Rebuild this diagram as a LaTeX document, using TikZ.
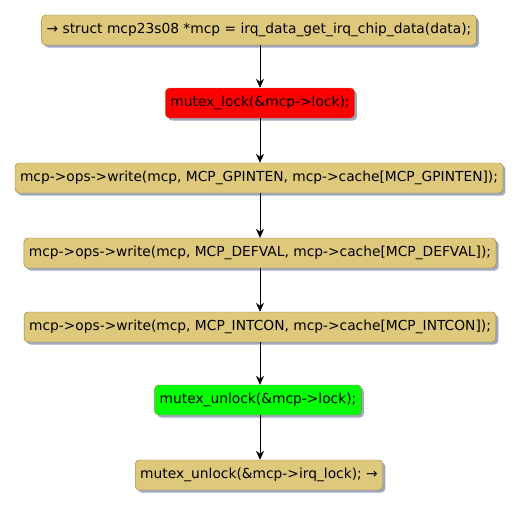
\documentclass[tikz,border=0pt]{standalone}
\usepackage{fontspec}
\setmainfont{DejaVu Sans}
\usepackage{tikz}
\usetikzlibrary{positioning,arrows.meta,shadows}
\definecolor{acttan}{RGB}{221,200,124}
\definecolor{actedge}{RGB}{150,125,60}
\definecolor{actshadow}{RGB}{160,168,190}
\definecolor{actred}{RGB}{255,0,0}
\definecolor{actgreen}{RGB}{0,255,0}

\begin{document}
\begin{tikzpicture}[x=1pt,y=-1pt,
  act/.style={draw=actedge, fill=acttan, rounded corners=4pt, minimum height=30pt,
    inner xsep=5pt, font=\fontsize{13.8}{16}\selectfont,
    drop shadow={shadow xshift=2.5pt, shadow yshift=-2.5pt, fill=actshadow, opacity=1}},
  flow/.style={-{Stealth[length=9pt,width=8pt]}, line width=0.8pt}]
  \useasboundingbox (0,0) rectangle (523,507);

  % activities
  \node[act] (getdata) at (259,30) {\symbol{"2192} struct mcp23s08 *mcp = irq\_data\_get\_irq\_chip\_data(data);};
  \node[act, fill=actred] (lock) at (260,103) {mutex\_lock(\&mcp->lock);};
  \node[act] (gpinten) at (259,178) {mcp->ops->write(mcp, MCP\_GPINTEN, mcp->cache[MCP\_GPINTEN]);};
  \node[act] (defval) at (260,253) {mcp->ops->write(mcp, MCP\_DEFVAL, mcp->cache[MCP\_DEFVAL]);};
  \node[act] (intcon) at (260,327) {mcp->ops->write(mcp, MCP\_INTCON, mcp->cache[MCP\_INTCON]);};
  \node[act, fill=actgreen] (unlock) at (258,400) {mutex\_unlock(\&mcp->lock);};
  \node[act] (irqunlock) at (259,475) {mutex\_unlock(\&mcp->irq\_lock); \symbol{"2192}};

  % arrows
  \draw[flow] (getdata.south -| 260,0) -- (lock.north -| 260,0);
  \draw[flow] (lock.south -| 260,0) -- (gpinten.north -| 260,0);
  \draw[flow] (gpinten.south -| 260,0) -- (defval.north -| 260,0);
  \draw[flow] (defval.south -| 260,0) -- (intcon.north -| 260,0);
  \draw[flow] (intcon.south -| 260,0) -- (unlock.north -| 260,0);
  \draw[flow] (unlock.south -| 260,0) -- (irqunlock.north -| 260,0);
\end{tikzpicture}
\end{document}
